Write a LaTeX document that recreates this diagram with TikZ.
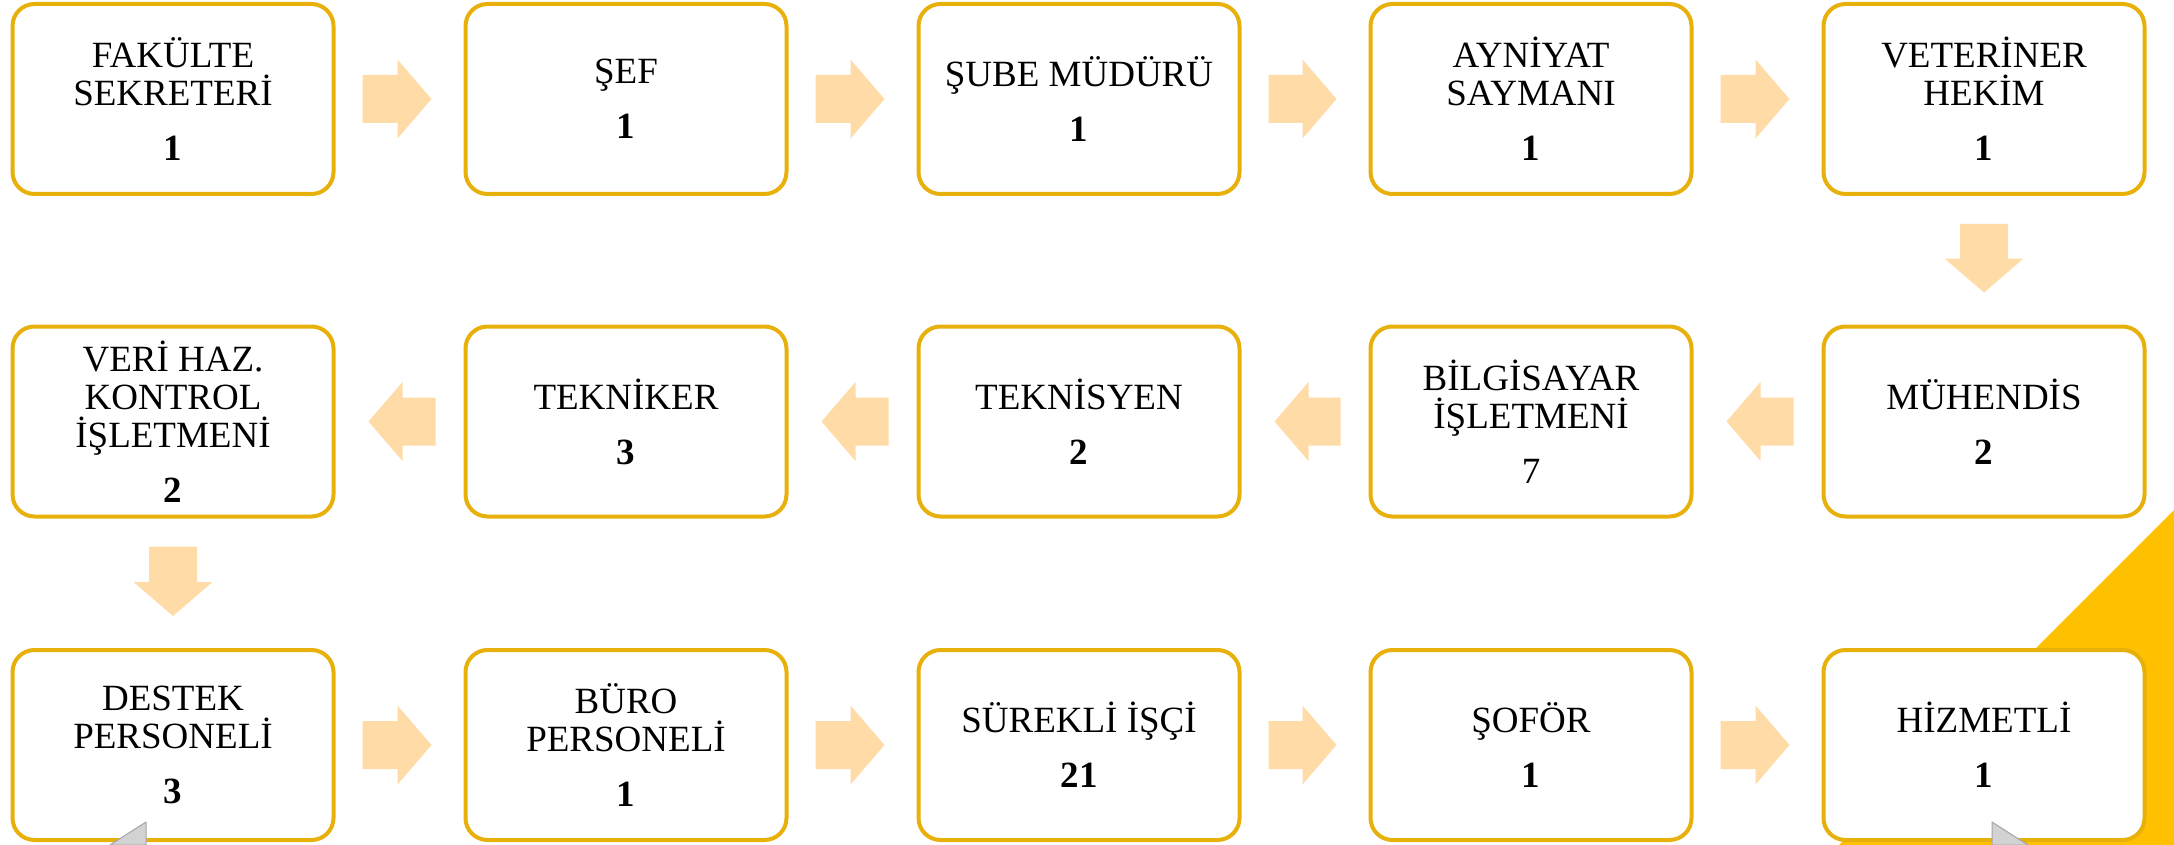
\documentclass[tikz,border=0pt]{standalone}
\usepackage{fontspec}
\setmainfont{Liberation Serif}
\usetikzlibrary{calc}
\definecolor{boxline}{RGB}{232,176,10}
\definecolor{arrowfill}{RGB}{255,219,168}
\definecolor{cornerfill}{RGB}{255,192,0}
\definecolor{tabfill}{RGB}{210,210,210}
\definecolor{tabline}{RGB}{165,165,165}
\tikzset{
  box/.style={draw=boxline, line width=4pt, rounded corners=22pt, fill=white,
    minimum width=321pt, minimum height=190pt, inner sep=0pt, align=center,
    font=\fontsize{37}{38}\selectfont},
  flowarrow/.style={fill=arrowfill, draw=none},
  tab/.style={fill=tabfill, draw=tabline, line width=1pt, line join=round},
}
% right-pointing block arrow from node #1 to node #2
\newcommand\arrowRight[2]{%
  \path[flowarrow] let \p1=(#1.east), \p2=(#2.west) in
    (\x1+27pt,\y1+24pt) -- (\x2-66pt,\y1+24pt) -- (\x2-66pt,\y1+39.5pt) --
    (\x2-32pt,\y1) -- (\x2-66pt,\y1-39.5pt) -- (\x2-66pt,\y1-24pt) --
    (\x1+27pt,\y1-24pt) -- cycle;}
% left-pointing block arrow from node #1 to node #2
\newcommand\arrowLeft[2]{%
  \path[flowarrow] let \p1=(#1.west), \p2=(#2.east) in
    (\x1-28pt,\y1+24pt) -- (\x2+67pt,\y1+24pt) -- (\x2+67pt,\y1+39.5pt) --
    (\x2+33pt,\y1) -- (\x2+67pt,\y1-39.5pt) -- (\x2+67pt,\y1-24pt) --
    (\x1-28pt,\y1-24pt) -- cycle;}
% downward block arrow from node #1 to node #2
\newcommand\arrowDown[2]{%
  \path[flowarrow] let \p1=(#1.south), \p2=(#2.north) in
    (\x1-24pt,\y1-28pt) -- (\x1-24pt,\y2+66pt) -- (\x1-39.5pt,\y2+66pt) --
    (\x1,\y2+32pt) -- (\x1+39.5pt,\y2+66pt) -- (\x1+24pt,\y2+66pt) --
    (\x1+24pt,\y1-28pt) -- cycle;}
\begin{document}
\begin{tikzpicture}[x=1pt,y=-1pt]
\useasboundingbox (0,0) rectangle (2174,845);
% corner decoration
\fill[cornerfill] (2174,510) -- (2174,845) -- (1839,845) -- cycle;
% row 1
\node[box] (fak) at (173,99)  {FAKÜLTE\\SEKRETERİ\\[17pt]\textbf{1}};
\node[box] (sef) at (626,99)  {ŞEF\\[17pt]\textbf{1}};
\node[box] (sube) at (1079,99) {ŞUBE MÜDÜRÜ\\[17pt]\textbf{1}};
\node[box] (ayn) at (1531,99) {AYNİYAT\\SAYMANI\\[17pt]\textbf{1}};
\node[box] (vet) at (1984,99) {VETERİNER\\HEKİM\\[17pt]\textbf{1}};
% row 2
\node[box] (muh) at (1984,421.5) {MÜHENDİS\\[17pt]\textbf{2}};
\node[box] (bil) at (1531,421.5) {BİLGİSAYAR\\İŞLETMENİ\\[17pt]7};
\node[box] (tsy) at (1079,421.5) {TEKNİSYEN\\[17pt]\textbf{2}};
\node[box] (tkr) at (626,421.5)  {TEKNİKER\\[17pt]\textbf{3}};
\node[box] (veri) at (173,421.5) {VERİ HAZ.\\KONTROL\\İŞLETMENİ\\[17pt]\textbf{2}};
% row 3
\node[box] (des) at (173,745)  {DESTEK\\PERSONELİ\\[17pt]\textbf{3}};
\node[box] (buro) at (626,745) {BÜRO\\PERSONELİ\\[17pt]\textbf{1}};
\node[box] (sur) at (1079,745) {SÜREKLİ İŞÇİ\\[17pt]\textbf{21}};
\node[box] (sof) at (1531,745) {ŞOFÖR\\[17pt]\textbf{1}};
\node[box] (hiz) at (1984,745) {HİZMETLİ\\[17pt]\textbf{1}};
% arrows
\arrowRight{fak}{sef}
\arrowRight{sef}{sube}
\arrowRight{sube}{ayn}
\arrowRight{ayn}{vet}
\arrowDown{vet}{muh}
\arrowLeft{muh}{bil}
\arrowLeft{bil}{tsy}
\arrowLeft{tsy}{tkr}
\arrowLeft{tkr}{veri}
\arrowDown{veri}{des}
\arrowRight{des}{buro}
\arrowRight{buro}{sur}
\arrowRight{sur}{sof}
\arrowRight{sof}{hiz}
% grey tabs at the bottom edge
\path[tab] (146,822) -- (146,845) -- (110,845) -- cycle;
\path[tab] (1992,822) -- (1992,845) -- (2028,845) -- cycle;
\end{tikzpicture}
\end{document}
